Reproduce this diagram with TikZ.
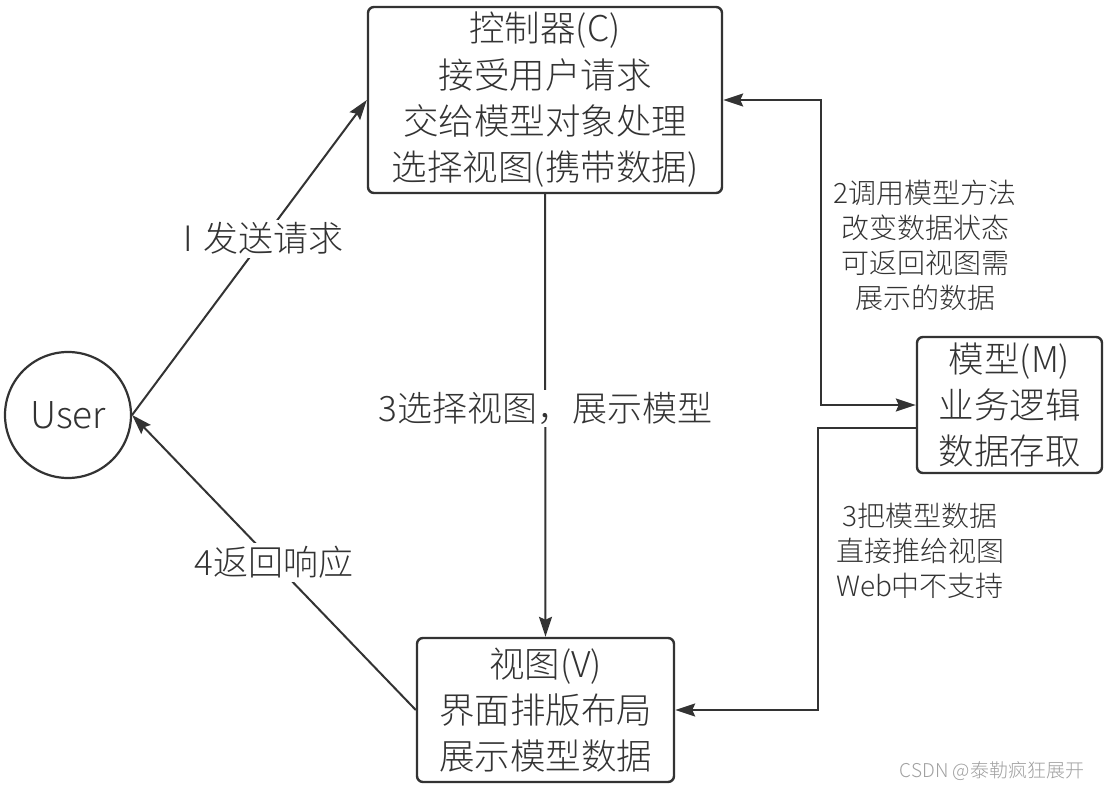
\documentclass[tikz,border=0pt]{standalone}
\usepackage{fontspec}
\setmainfont{Noto Sans CJK SC Light}
\usetikzlibrary{arrows.meta}
\definecolor{ink}{HTML}{333333}
\definecolor{wm}{HTML}{A0A0A0}
\tikzset{
  box/.style={draw=ink, line width=2.4pt, rounded corners=6pt, align=center, text=ink, inner sep=0pt, font=\fontsize{35.5}{46.3}\selectfont},
  userc/.style={draw=ink, line width=2.2pt, circle, minimum size=126pt, inner sep=0pt, text=ink, font=\fontsize{37}{40}\selectfont},
  conn/.style={draw=ink, line width=2pt, -{Stealth[length=20pt,width=13pt,inset=3pt]}},
  biconn/.style={draw=ink, line width=2pt, {Stealth[length=20pt,width=13pt,inset=3pt]}-{Stealth[length=20pt,width=13pt,inset=3pt]}},
  biglabel/.style={fill=white, text=ink, inner sep=3pt, font=\fontsize{35}{40}\selectfont},
  smalllabel/.style={text=ink, align=center, inner sep=0pt, font=\fontsize{28}{35}\selectfont},
}
\begin{document}
\begin{tikzpicture}[x=1pt,y=-1pt]
\useasboundingbox[fill=white] (0,0) rectangle (1104,789);

\node[userc] (user) at (68,415) {User};
\node[box, minimum width=354pt, minimum height=186pt] (ctrl) at (545,100)
  {控制器(C)\\接受用户请求\\交给模型对象处理\\选择视图(携带数据)};
\node[box, minimum width=185pt, minimum height=136pt] (model) at (1009.5,405)
  {模型(M)\\业务逻辑\\数据存取};
\node[box, minimum width=257pt, minimum height=144pt] (view) at (545.5,710)
  {视图(V)\\界面排版布局\\展示模型数据};

% 1 send request
\draw[conn] (user.east) -- node[biglabel, pos=0.56] (l1) {I\hspace{0.3em}发送请求} (ctrl.west);
% 4 return response
\draw[conn] (view.west) -- node[biglabel, pos=0.5] (l4) {4返回响应} (user.east);
% 3 choose view
\draw[conn] (ctrl.south) -- node[biglabel, pos=0.484, inner sep=2pt] (l3) {3选择视图，展示模型} (view.north);
% 2 controller <-> model
\draw[biconn] (ctrl.east) -- ++(98,0) |- (model.west);
% 3 model -> view
\draw[conn] ([yshift=-23pt]model.west) -- ++(-98,0) |- (view.east);

\node[smalllabel] (l2) at (925,245) {2调用模型方法\\改变数据状态\\可返回视图需\\展示的数据};
\node[smalllabel] (l5) at (920,551) {3把模型数据\\直接推给视图\\Web中不支持};

\node[text=wm, inner sep=0pt, font=\fontsize{19}{22}\selectfont] (wmk) at (992,771) {CSDN @泰勒疯狂展开};
\end{tikzpicture}
\end{document}
